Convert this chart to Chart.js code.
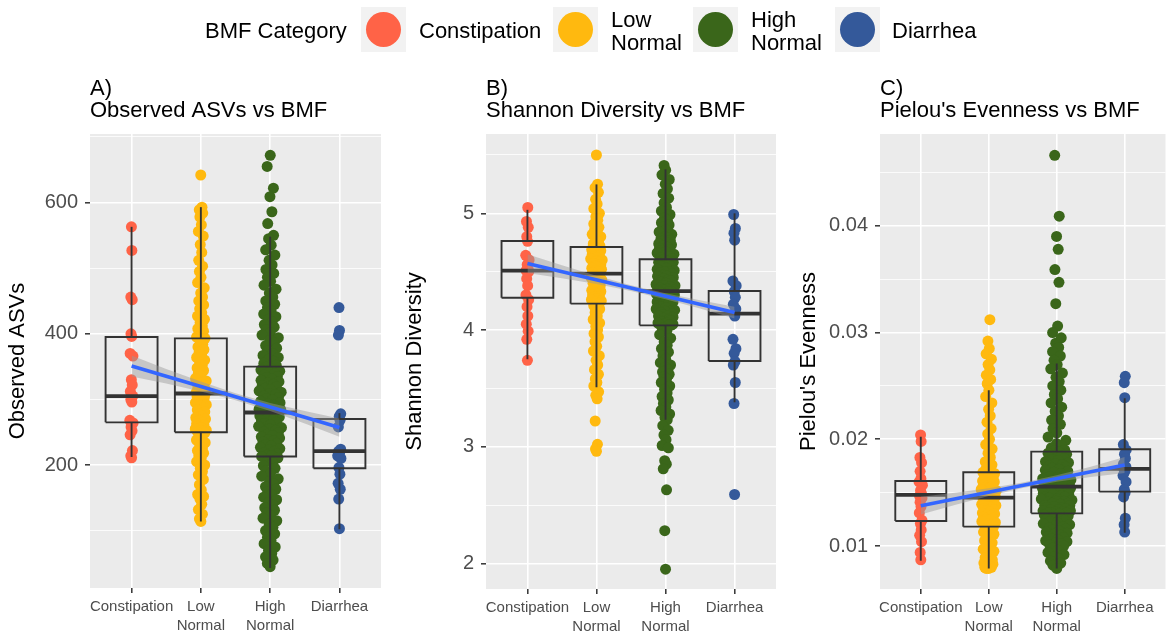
<!DOCTYPE html>
<html><head><meta charset="utf-8">
<script src="https://cdn.jsdelivr.net/npm/chart.js@4.4.1/dist/chart.umd.min.js"></script>
<style>
html,body{margin:0;padding:0;background:#fff;overflow:hidden;}
#wrap{position:relative;width:1167px;height:634px;overflow:hidden;background:#fff;}
#wrap canvas{position:absolute;left:0;top:0;}
</style></head><body>
<div id="wrap">
<canvas id="cA" width="1171" height="634"></canvas>
<canvas id="cB" width="1171" height="634"></canvas>
<canvas id="cC" width="1171" height="634"></canvas>
</div>
<script>
// ---------------- DATA ----------------
const categories = ["Constipation", "Low Normal", "High Normal", "Diarrhea"];
const categoryTickLabels = [["Constipation"], ["Low", "Normal"], ["High", "Normal"], ["Diarrhea"]];
const legendTitle = "BMF Category";
const legendLabels = [["Constipation"], ["Low", "Normal"], ["High", "Normal"], ["Diarrhea"]];

// Panel A: Observed ASVs
const asvConstipation = [563, 527, 456, 452, 400, 396, 370, 366, 330, 322, 312, 305, 300, 296, 268, 264, 258, 252, 246, 222, 214, 211];
const asvLowNormal = [642, 593, 589, 584, 578, 566, 556, 549, 536, 524, 512, 503, 495, 486, 478, 470, 462, 456, 450, 444, 438, 432, 427, 422, 417, 412, 408, 404, 400, 397, 395, 393,
  388, 384, 380, 376, 372, 368, 364, 360, 356, 352, 348, 344, 340, 336, 332, 328, 325, 322, 319, 316, 314, 312, 311, 310, 309,
  307, 305, 303, 300, 298, 295, 292, 290, 287, 284, 281, 278, 275, 272, 270, 268, 265, 263, 261, 259, 257, 255, 253, 252, 251, 250, 249,
  246, 242, 238, 234, 230, 226, 222, 218, 214, 210, 205, 200, 195, 190, 185, 178, 170, 162, 155, 152, 148, 140, 132, 125, 118, 114];
const asvHighNormal = [672, 655, 622, 609, 586, 568, 550,
  545, 535, 528, 520, 512, 505, 498, 492, 486, 480, 474, 468, 462, 456, 450, 445, 440, 435, 430, 426, 422, 418, 414, 410, 406, 402, 398, 394, 390, 386, 382, 378, 374, 370, 367, 364, 361, 358, 355, 352,
  349, 347, 345, 343, 341, 339, 337, 335, 333, 331, 329, 327, 325, 323, 321, 319, 317, 315, 313, 311, 309, 307, 305, 303, 301, 299, 297, 295, 293, 291, 289, 288, 287, 286, 285, 284, 283, 282, 281, 280,
  279, 277, 275, 273, 271, 269, 267, 265, 263, 261, 259, 257, 255, 253, 251, 249, 247, 245, 243, 241, 239, 237, 235, 233, 231, 229, 227, 225, 223, 221, 219, 217, 215, 214, 213,
  211, 207, 203, 199, 195, 191, 187, 183, 179, 175, 171, 167, 163, 159, 155, 151, 147, 143, 139, 135, 131, 127, 123, 119, 115, 110, 105, 100, 95, 90, 85, 80, 75, 70, 65, 60, 55, 50, 45];
const asvDiarrhea = [440, 405, 398, 278, 274, 268, 258, 224, 221, 219, 214, 210, 196, 186, 172, 163, 148, 103];
// box stats per category: whisker low, q1, median, q3, whisker high
const asvWhiskerLow = [212, 114, 43, 102];
const asvQ1 = [265, 250, 213, 195];
const asvMedian = [305, 309, 280, 221];
const asvQ3 = [395, 393, 350, 270];
const asvWhiskerHigh = [563, 593, 548, 279];
const asvFit = [351, 257];                          // fitted value at Constipation and at Diarrhea
const asvBandX = [1, 1.5, 2, 2.5, 3, 3.5, 4];
const asvBandHalf = [16, 11, 7.5, 5.5, 6, 9.5, 14];
const asvRange = [12.5, 704.5];
const asvMajorTicks = [200, 400, 600];
const asvMinorTicks = [100, 300, 500, 700];

// Panel B: Shannon Diversity
const shanConstipation = [5.05, 4.93, 4.88, 4.80, 4.76, 4.64, 4.60, 4.56, 4.52, 4.51, 4.50, 4.44, 4.38, 4.30, 4.26, 4.20, 4.12, 4.05, 3.99, 3.92, 3.74];
const shanLowNormal = [5.50, 5.25, 5.22, 5.18, 5.12, 5.08, 5.04, 5.00, 4.97, 4.94, 4.91, 4.88, 4.86, 4.84, 4.82, 4.80, 4.78, 4.76, 4.74, 4.72, 4.71,
  4.70, 4.69, 4.68, 4.67, 4.66, 4.65, 4.64, 4.63, 4.62, 4.61, 4.60, 4.59, 4.58, 4.57, 4.56, 4.55, 4.54, 4.53, 4.52, 4.51, 4.50, 4.49, 4.48,
  4.47, 4.46, 4.45, 4.43, 4.42, 4.41, 4.40, 4.38, 4.37, 4.36, 4.34, 4.33, 4.32, 4.31, 4.30, 4.29, 4.28, 4.27, 4.26, 4.25, 4.24, 4.23,
  4.21, 4.18, 4.15, 4.12, 4.09, 4.06, 4.03, 4.00, 3.97, 3.94, 3.90, 3.86, 3.82, 3.78, 3.74, 3.70, 3.66, 3.62, 3.58, 3.55, 3.52, 3.47, 3.44, 3.41, 3.22, 3.02, 2.98, 2.96];
const shanHighNormal = [5.41, 5.37, 5.33, 5.29, 5.25, 5.21, 5.17, 5.13, 5.09, 5.05, 5.02, 4.99, 4.96, 4.94, 4.92, 4.90, 4.88, 4.86, 4.84, 4.82, 4.80, 4.79, 4.78, 4.77, 4.76, 4.75, 4.74, 4.73, 4.72, 4.71, 4.70, 4.69, 4.68, 4.67, 4.66, 4.65, 4.64, 4.63, 4.62, 4.61,
  4.60, 4.59, 4.58, 4.58, 4.57, 4.56, 4.55, 4.54, 4.54, 4.53, 4.52, 4.51, 4.50, 4.50, 4.49, 4.48, 4.47, 4.46, 4.46, 4.45, 4.44, 4.43, 4.42, 4.42, 4.41, 4.40, 4.39, 4.38, 4.38, 4.37, 4.36, 4.36, 4.35, 4.35, 4.34, 4.34, 4.34, 4.33, 4.33, 4.33,
  4.32, 4.31, 4.31, 4.30, 4.29, 4.28, 4.28, 4.27, 4.26, 4.25, 4.24, 4.24, 4.23, 4.22, 4.21, 4.20, 4.20, 4.19, 4.18, 4.17, 4.16, 4.16, 4.15, 4.14, 4.13, 4.12, 4.12, 4.11, 4.10, 4.09, 4.08, 4.08, 4.07, 4.06, 4.06, 4.05, 4.05, 4.04, 4.04, 4.04,
  4.02, 3.99, 3.96, 3.93, 3.90, 3.87, 3.84, 3.81, 3.78, 3.75, 3.72, 3.70, 3.68, 3.66, 3.64, 3.62, 3.60, 3.58, 3.55, 3.52, 3.49, 3.46, 3.43, 3.40, 3.37, 3.34, 3.31, 3.28, 3.25, 3.23, 3.18, 3.14, 3.10, 3.06, 3.01, 2.99, 2.88, 2.85, 2.81, 2.63, 2.28, 1.95];
const shanDiarrhea = [4.99, 4.87, 4.83, 4.77, 4.42, 4.38, 4.33, 4.28, 4.22, 4.18, 4.14, 4.12, 3.92, 3.84, 3.80, 3.73, 3.70, 3.55, 3.37, 2.59];
const shanWhiskerLow = [3.75, 3.51, 3.23, 3.38];
const shanQ1 = [4.277, 4.226, 4.04, 3.734];
const shanMedian = [4.509, 4.483, 4.334, 4.14];
const shanQ3 = [4.763, 4.711, 4.606, 4.334];
const shanWhiskerHigh = [5.03, 5.248, 5.377, 5.0];
const shanFit = [4.569, 4.149];
const shanBandX = [1, 1.5, 2, 2.5, 3, 3.5, 4];
const shanBandHalf = [0.08, 0.055, 0.035, 0.025, 0.025, 0.035, 0.05];
const shanRange = [1.78, 5.68];
const shanMajorTicks = [2, 3, 4, 5];
const shanMinorTicks = [2.5, 3.5, 4.5, 5.5];

// Panel C: Pielou's Evenness
const pielConstipation = [0.0204, 0.0198, 0.0183, 0.0178, 0.0170, 0.0163, 0.0160, 0.0157, 0.0152, 0.0149, 0.0147, 0.0145, 0.0141, 0.0137, 0.0131, 0.0124, 0.0121, 0.0115, 0.0110, 0.0104, 0.0094, 0.0087];
const pielLowNormal = [0.0312, 0.0292, 0.0285, 0.0280, 0.0275, 0.0270, 0.0265, 0.0260, 0.0256, 0.0252, 0.0246, 0.0240, 0.0234, 0.0228, 0.0222, 0.0216, 0.0210, 0.0205, 0.0200, 0.0195, 0.0191, 0.0187, 0.0183, 0.0179, 0.0176, 0.0173, 0.0170,
  0.0169, 0.0168, 0.0167, 0.0166, 0.0165, 0.0164, 0.0163, 0.0162, 0.0161, 0.0160, 0.0159, 0.0158, 0.0157, 0.0156, 0.0155, 0.0154, 0.0153, 0.0152, 0.0151, 0.0150, 0.0149, 0.0148, 0.0148, 0.0147, 0.0146, 0.0146, 0.0145,
  0.0144, 0.0143, 0.0142, 0.0141, 0.0140, 0.0139, 0.0138, 0.0137, 0.0136, 0.0135, 0.0134, 0.0133, 0.0132, 0.0131, 0.0130, 0.0129, 0.0128, 0.0127, 0.0126, 0.0125, 0.0124, 0.0123, 0.0122, 0.0121, 0.0120, 0.0119, 0.0118,
  0.0117, 0.0115, 0.0113, 0.0111, 0.0109, 0.0107, 0.0105, 0.0103, 0.0101, 0.0099, 0.0097, 0.0095, 0.0093, 0.0091, 0.0089, 0.0087, 0.0086, 0.0085, 0.0084, 0.0083, 0.0082, 0.0081, 0.0080, 0.0080, 0.0079, 0.0079];
const pielHighNormal = [0.0466, 0.0409, 0.0390, 0.0378, 0.0359, 0.0347, 0.0327, 0.0306, 0.0300, 0.0295, 0.0290, 0.0286, 0.0282, 0.0278, 0.0274, 0.0270, 0.0266, 0.0262, 0.0258, 0.0254, 0.0250, 0.0246, 0.0242, 0.0238, 0.0234, 0.0230, 0.0226, 0.0222, 0.0218, 0.0214, 0.0210, 0.0206, 0.0202, 0.0199, 0.0196, 0.0194, 0.0192, 0.0190, 0.0189, 0.0188,
  0.0187, 0.0186, 0.0185, 0.0184, 0.0183, 0.0182, 0.0181, 0.0180, 0.0179, 0.0178, 0.0177, 0.0176, 0.0175, 0.0174, 0.0173, 0.0172, 0.0171, 0.0170, 0.0169, 0.0168, 0.0167, 0.0166, 0.0165, 0.0164, 0.0163, 0.0162, 0.0161, 0.0160, 0.0160, 0.0159, 0.0159, 0.0158, 0.0158, 0.0157, 0.0157, 0.0156, 0.0156, 0.0156, 0.0155, 0.0155,
  0.0154, 0.0154, 0.0153, 0.0152, 0.0152, 0.0151, 0.0150, 0.0150, 0.0149, 0.0148, 0.0148, 0.0147, 0.0146, 0.0146, 0.0145, 0.0144, 0.0144, 0.0143, 0.0142, 0.0142, 0.0141, 0.0140, 0.0140, 0.0139, 0.0138, 0.0138, 0.0137, 0.0136, 0.0136, 0.0135, 0.0134, 0.0134, 0.0133, 0.0133, 0.0132, 0.0132, 0.0131, 0.0131, 0.0131, 0.0130,
  0.0129, 0.0128, 0.0127, 0.0126, 0.0125, 0.0124, 0.0123, 0.0122, 0.0121, 0.0120, 0.0119, 0.0118, 0.0117, 0.0116, 0.0115, 0.0114, 0.0113, 0.0112, 0.0111, 0.0110, 0.0109, 0.0108, 0.0107, 0.0106, 0.0105, 0.0104, 0.0103, 0.0102, 0.0101, 0.0100, 0.0098, 0.0096, 0.0094, 0.0092, 0.0090, 0.0088, 0.0086, 0.0084, 0.0082, 0.0079];
const pielDiarrhea = [0.0259, 0.0253, 0.0239, 0.0195, 0.0190, 0.0186, 0.0182, 0.0177, 0.0174, 0.0172, 0.0170, 0.0166, 0.0160, 0.0153, 0.0150, 0.0146, 0.0126, 0.0120, 0.0113];
const pielWhiskerLow = [0.00862, 0.0079, 0.0079, 0.01125];
const pielQ1 = [0.01234, 0.01181, 0.01306, 0.01509];
const pielMedian = [0.01478, 0.01453, 0.01556, 0.01722];
const pielQ3 = [0.01609, 0.01691, 0.01884, 0.01906];
const pielWhiskerHigh = [0.02024, 0.0246, 0.0271, 0.02384];
const pielFit = [0.01378, 0.01759];
const pielBandX = [1, 1.5, 2, 2.5, 3, 3.5, 4];
const pielBandHalf = [0.00084, 0.00058, 0.00036, 0.00026, 0.0003, 0.00048, 0.00075];
const pielRange = [0.00597, 0.0486];
const pielMajorTicks = [0.01, 0.02, 0.03, 0.04];
const pielMinorTicks = [0.015, 0.025, 0.035, 0.045];

// ---------------- STYLE ----------------
const FONT = "'Liberation Sans', Arial, Helvetica, sans-serif";
const COLORS = ["#FF6347", "#FFB90F", "#3A661A", "#34599A"];
const PANEL_BG = "#EBEBEB";
const BOX_COLOR = "#333333";
const BOX_HALF = 0.375;
const PX_PER_UNIT = 69.2;
const POINT_R = 5.5;

// ---------------- HELPERS ----------------
function vdc(n) { let q = 0, bk = 0.5; while (n > 0) { q += (n % 2) * bk; n = Math.floor(n / 2); bk /= 2; } return q; }
function quasiOffsets(vals, maxOffPx) {
  const n = vals.length;
  const mean = vals.reduce((a, b) => a + b, 0) / n;
  const sd = Math.sqrt(vals.reduce((a, b) => a + (b - mean) * (b - mean), 0) / Math.max(1, n - 1)) || 1;
  const bw = 0.6 * sd * Math.pow(n, -0.2);
  const dens = vals.map(v => vals.reduce((s, w) => s + Math.exp(-0.5 * ((v - w) / bw) ** 2), 0));
  const maxD = Math.max(...dens);
  const order = vals.map((v, i) => i).sort((a, b) => vals[a] - vals[b]);
  const offs = new Array(n).fill(0);
  order.forEach((idx, rank) => {
    offs[idx] = (maxOffPx / PX_PER_UNIT) * Math.sqrt(dens[idx] / maxD) * (2 * vdc(rank + 1) - 1);
  });
  return offs;
}
const near = (a, b) => Math.abs(a - b) < 1e-9;

const panelTitlePlugin = {
  id: 'panelTitle',
  afterDraw(chart, args, opts) {
    const ctx = chart.ctx, ca = chart.chartArea;
    ctx.save();
    ctx.fillStyle = '#000';
    ctx.font = '22px ' + FONT;
    ctx.textAlign = 'left';
    ctx.textBaseline = 'alphabetic';
    ctx.fillText(opts.letter, ca.left, 95);
    ctx.fillText(opts.text, ca.left, 117);
    ctx.restore();
  }
};
const bgPlugin = {
  id: 'panelBg',
  beforeDraw(chart) {
    const ctx = chart.ctx, ca = chart.chartArea;
    ctx.save(); ctx.fillStyle = PANEL_BG;
    ctx.fillRect(ca.left, ca.top, ca.right - ca.left, ca.bottom - ca.top);
    ctx.restore();
  }
};
const legendPlugin = {
  id: 'bmfLegend',
  afterDraw(chart) {
    const ctx = chart.ctx;
    ctx.save();
    ctx.font = '22px ' + FONT;
    ctx.fillStyle = '#000';
    ctx.textBaseline = 'alphabetic';
    ctx.fillText(legendTitle, 205, 38);
    const boxX = [361, 553, 693, 835];
    const textX = [419, 611, 751, 892];
    legendLabels.forEach((lines, i) => {
      ctx.fillStyle = '#F2F2F2';
      ctx.fillRect(boxX[i], 7, 45, 45);
      ctx.fillStyle = COLORS[i];
      ctx.beginPath(); ctx.arc(boxX[i] + 22.5, 29.5, 17.5, 0, Math.PI * 2); ctx.fill();
      ctx.fillStyle = '#000';
      if (lines.length === 1) ctx.fillText(lines[0], textX[i], 38);
      else { ctx.fillText(lines[0], textX[i], 27); ctx.fillText(lines[1], textX[i], 50); }
    });
    ctx.restore();
  }
};

function buildPanel(id, p) {
  const datasets = [];
  p.groups.forEach((vals, gi) => {
    const offs = quasiOffsets(vals, p.spread[gi]);
    datasets.push({
      type: 'scatter', label: categories[gi],
      data: vals.map((v, i) => ({ x: gi + 1 + offs[i], y: v })),
      backgroundColor: COLORS[gi], borderWidth: 0, pointRadius: POINT_R, pointHoverRadius: POINT_R, order: 5
    });
  });
  const lineDs = (data, width, extra) => Object.assign({
    type: 'line', data, borderColor: BOX_COLOR, borderWidth: width, pointRadius: 0, pointHoverRadius: 0,
    fill: false, tension: 0, order: 3, borderCapStyle: 'butt', borderJoinStyle: 'miter'
  }, extra || {});
  for (let gi = 0; gi < 4; gi++) {
    const x = gi + 1, x0 = x - BOX_HALF, x1 = x + BOX_HALF;
    datasets.push(lineDs([{ x: x, y: p.q3[gi] }, { x: x, y: p.hi[gi] }], 1.9));
    datasets.push(lineDs([{ x: x, y: p.q1[gi] }, { x: x, y: p.lo[gi] }], 1.9));
    datasets.push(lineDs([{ x: x0, y: p.q1[gi] }, { x: x1, y: p.q1[gi] }, { x: x1, y: p.q3[gi] }, { x: x0, y: p.q3[gi] }, { x: x0, y: p.q1[gi] }], 1.9));
    datasets.push(lineDs([{ x: x0, y: p.med[gi] }, { x: x1, y: p.med[gi] }], 3.8));
  }
  const fitAt = x => p.fit[0] + (p.fit[1] - p.fit[0]) * (x - 1) / 3;
  datasets.push(lineDs(p.bandX.map((x, i) => ({ x, y: fitAt(x) - p.bandHalf[i] })), 0, { order: 2, borderColor: 'rgba(0,0,0,0)' }));
  datasets.push(lineDs(p.bandX.map((x, i) => ({ x, y: fitAt(x) + p.bandHalf[i] })), 0, { order: 2, borderColor: 'rgba(0,0,0,0)', fill: '-1', backgroundColor: 'rgba(153,153,153,0.45)' }));
  datasets.push(lineDs([{ x: 1, y: p.fit[0] }, { x: 4, y: p.fit[1] }], 3.6, { order: 1, borderColor: '#3366FF', borderCapStyle: 'butt' }));

  const allTicks = p.minor.concat(p.major).sort((a, b) => a - b);
  const isMajor = v => p.major.some(m => near(m, v));
  const plugins = [bgPlugin, panelTitlePlugin];
  if (p.legend) plugins.push(legendPlugin);
  return new Chart(document.getElementById(id), {
    type: 'scatter',
    data: { datasets },
    plugins,
    options: {
      responsive: false, animation: false, devicePixelRatio: 1, events: [],
      layout: { padding: { left: p.padLeft, right: 1171 - p.right, top: 134, bottom: 0 } },
      plugins: {
        legend: { display: false }, tooltip: { enabled: false },
        panelTitle: { letter: p.letter, text: p.title }
      },
      scales: {
        x: {
          type: 'linear', min: 0.4, max: 4.6,
          afterBuildTicks: s => { s.ticks = [1, 2, 3, 4].map(v => ({ value: v })); },
          afterFit: s => { s.height = 634 - p.bottom; },
          ticks: {
            callback: v => categoryTickLabels[Math.round(v) - 1], autoSkip: false, maxRotation: 0, minRotation: 0,
            padding: 5, color: '#4D4D4D', font: { family: FONT, size: 15, lineHeight: 1.22 }
          },
          grid: { color: '#FFFFFF', lineWidth: 1.6, tickColor: '#333333', tickLength: 5, tickWidth: 1.5, drawTicks: true },
          border: { display: false }
        },
        y: {
          type: 'linear', min: p.range[0], max: p.range[1],
          afterBuildTicks: s => { s.ticks = allTicks.map(v => ({ value: v })); },
          afterFit: s => { s.width = p.yWidth; },
          ticks: {
            callback: v => isMajor(v) ? p.fmt(v) : '', padding: 7, color: '#4D4D4D',
            font: { family: FONT, size: 20 }
          },
          grid: {
            color: '#FFFFFF',
            lineWidth: c => (c.tick && isMajor(c.tick.value)) ? 1.6 : 0.8,
            tickColor: c => (c.tick && isMajor(c.tick.value)) ? '#333333' : 'rgba(0,0,0,0)',
            tickLength: 5, tickWidth: 1.5
          },
          title: { display: true, text: p.yTitle, color: '#000', font: { family: FONT, size: 22 }, padding: { top: 5, bottom: 0 } },
          border: { display: false }
        }
      }
    }
  });
}

buildPanel('cA', {
  letter: 'A)', title: 'Observed ASVs vs BMF', yTitle: 'Observed ASVs', legend: true,
  groups: [asvConstipation, asvLowNormal, asvHighNormal, asvDiarrhea], spread: [2, 6, 12, 2],
  lo: asvWhiskerLow, q1: asvQ1, med: asvMedian, q3: asvQ3, hi: asvWhiskerHigh,
  fit: asvFit, bandX: asvBandX, bandHalf: asvBandHalf, range: asvRange,
  major: asvMajorTicks, minor: asvMinorTicks, fmt: v => String(Math.round(v)),
  padLeft: 0, yWidth: 90, right: 381, bottom: 588
});
buildPanel('cB', {
  letter: 'B)', title: 'Shannon Diversity vs BMF', yTitle: 'Shannon Diversity',
  groups: [shanConstipation, shanLowNormal, shanHighNormal, shanDiarrhea], spread: [2, 6, 10, 2],
  lo: shanWhiskerLow, q1: shanQ1, med: shanMedian, q3: shanQ3, hi: shanWhiskerHigh,
  fit: shanFit, bandX: shanBandX, bandHalf: shanBandHalf, range: shanRange,
  major: shanMajorTicks, minor: shanMinorTicks, fmt: v => String(Math.round(v)),
  padLeft: 397, yWidth: 89, right: 776, bottom: 589
});
buildPanel('cC', {
  letter: 'C)', title: "Pielou's Evenness vs BMF", yTitle: "Pielou's Evenness",
  groups: [pielConstipation, pielLowNormal, pielHighNormal, pielDiarrhea], spread: [2, 8, 16, 2],
  lo: pielWhiskerLow, q1: pielQ1, med: pielMedian, q3: pielQ3, hi: pielWhiskerHigh,
  fit: pielFit, bandX: pielBandX, bandHalf: pielBandHalf, range: pielRange,
  major: pielMajorTicks, minor: pielMinorTicks, fmt: v => v.toFixed(2),
  padLeft: 791, yWidth: 89, right: 1171, bottom: 589
});
</script>
</body></html>
